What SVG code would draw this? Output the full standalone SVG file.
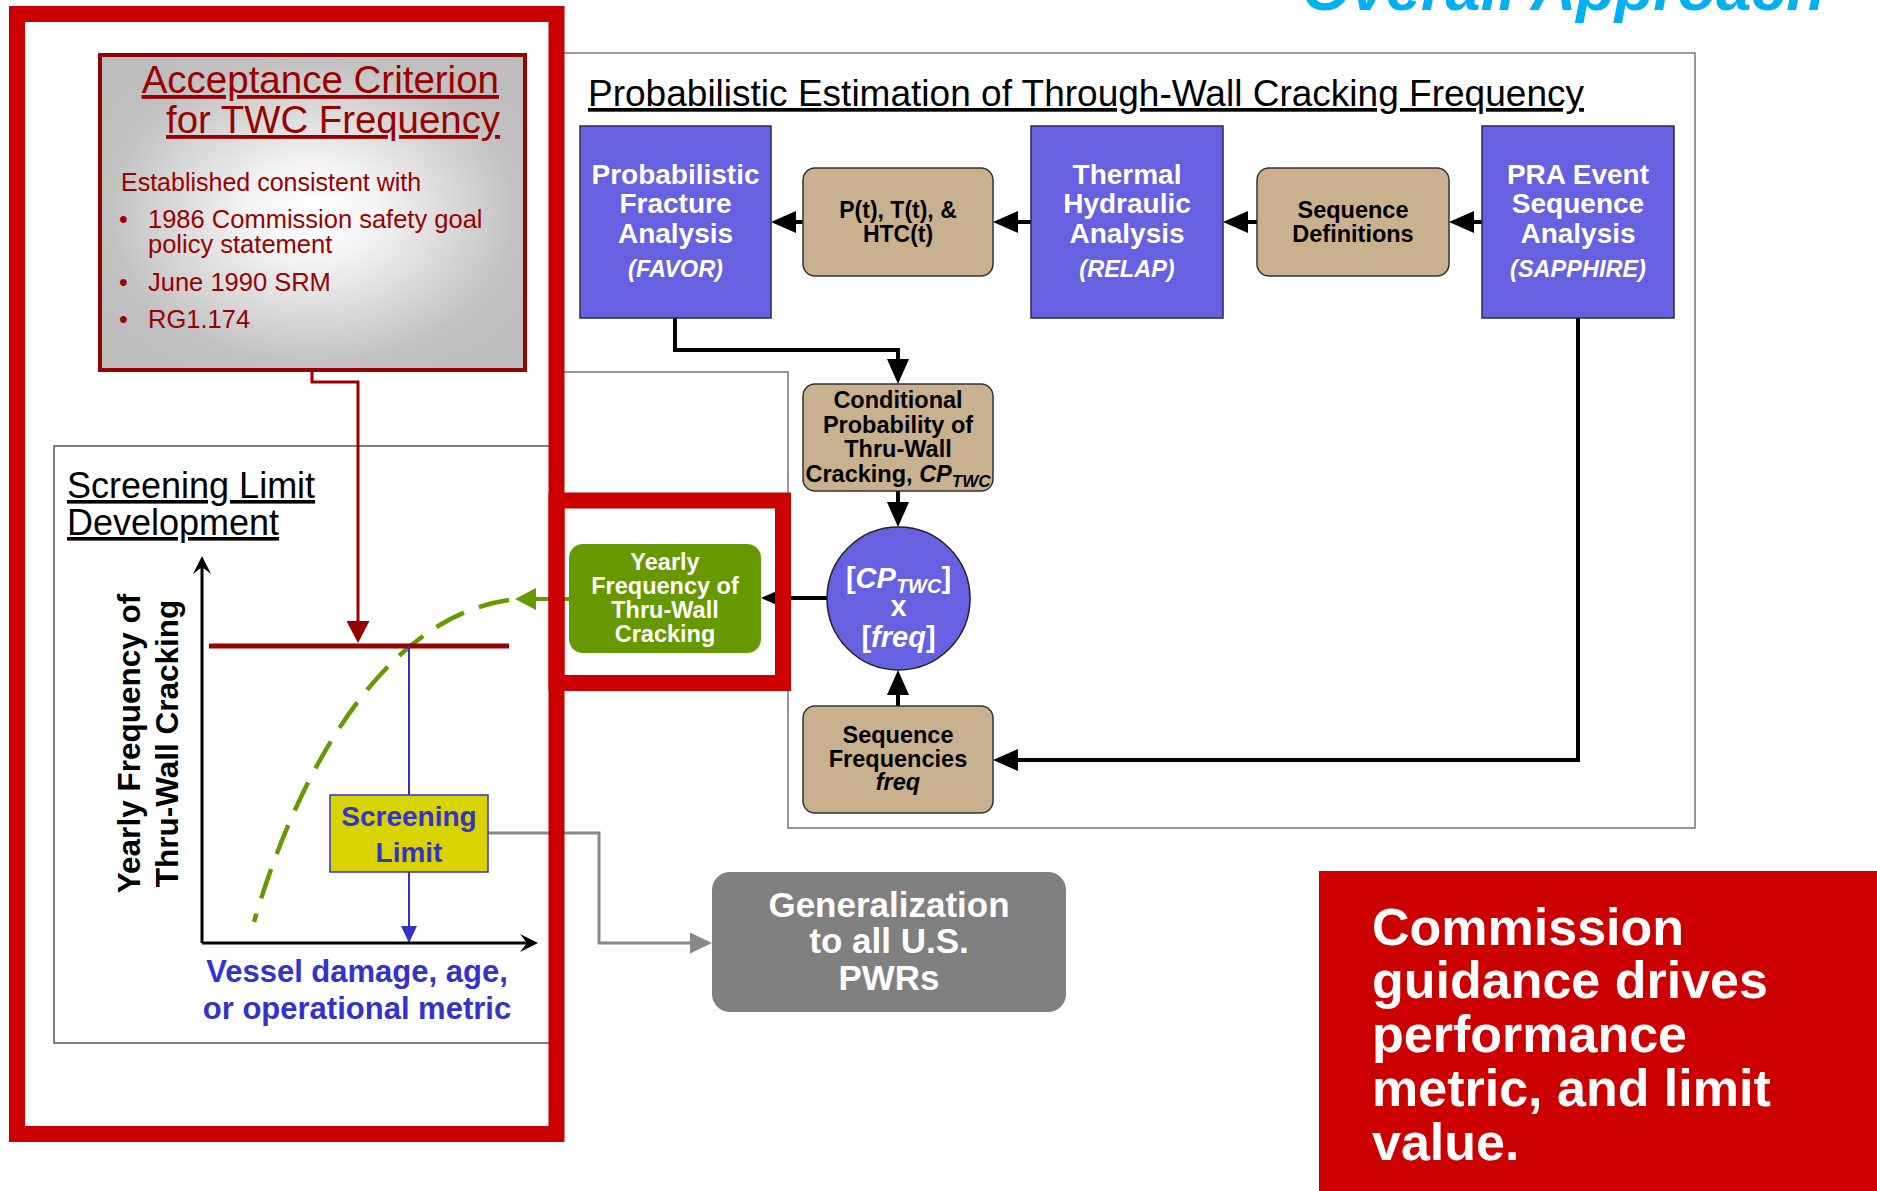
<svg xmlns="http://www.w3.org/2000/svg" width="1877" height="1191" viewBox="0 0 1877 1191">
<defs>
<style>
text{font-family:"Liberation Sans",Arial,Helvetica,sans-serif}
.b{font-weight:bold}
.i{font-style:italic}
.w{fill:#fff}
.dr{fill:#990000}
.bl{fill:#3333CC}
.c{text-anchor:middle}
.u{text-decoration:underline}
.blue{fill:#6661E0;stroke:#2a2a55;stroke-width:1.5}
.tan{fill:#C9B18F;stroke:#333;stroke-width:1.5}
.k{fill:none;stroke:#000;stroke-width:4}
.frame{fill:none;stroke:#CC0000;stroke-width:16}
</style>
<radialGradient id="gAcc" cx="0.5" cy="0.5" r="0.6">
<stop offset="0" stop-color="#FFFFFF"/>
<stop offset="0.25" stop-color="#F4F4F4"/>
<stop offset="0.8" stop-color="#C2C2C2"/>
<stop offset="1" stop-color="#BDBDBD"/>
</radialGradient>
<marker id="ak" markerUnits="userSpaceOnUse" viewBox="0 -11 25 22" markerWidth="25" markerHeight="22" refX="0" refY="0" orient="auto"><path d="M0,-11 L25,0 L0,11 Z" fill="#000"/></marker>
<marker id="ar" markerUnits="userSpaceOnUse" viewBox="0 -11.5 22 23" markerWidth="22" markerHeight="23" refX="0" refY="0" orient="auto"><path d="M0,-11.5 L22,0 L0,11.5 Z" fill="#990000"/></marker>
<marker id="ab" markerUnits="userSpaceOnUse" viewBox="0 -8 17 16" markerWidth="17" markerHeight="16" refX="0" refY="0" orient="auto"><path d="M0,-8 L17,0 L0,8 Z" fill="#3333CC"/></marker>
<marker id="ag" markerUnits="userSpaceOnUse" viewBox="0 -10.5 22 21" markerWidth="22" markerHeight="21" refX="0" refY="0" orient="auto"><path d="M0,-10.5 L22,0 L0,10.5 Z" fill="#888"/></marker>
<marker id="agr" markerUnits="userSpaceOnUse" viewBox="0 -11 21 22" markerWidth="21" markerHeight="22" refX="0" refY="0" orient="auto"><path d="M0,-11 L21,0 L0,11 Z" fill="#669900"/></marker>
<marker id="aax" markerUnits="userSpaceOnUse" viewBox="0 -9 18 18" markerWidth="18" markerHeight="18" refX="7" refY="0" orient="auto"><path d="M0,-9 L18,0 L0,9 L7,0 Z" fill="#000"/></marker>
</defs>
<rect width="1877" height="1191" fill="#fff"/>

<g id="title-overall">
<text x="1302" y="10" class="b i" font-size="63" fill="#00B0F0">Overall Approach</text>
</g>

<g id="containers">
<rect id="screening-dev-box" x="54" y="446" width="502" height="597" fill="#fff" stroke="#555" stroke-width="1.5"/>
<path id="probabilistic-box" d="M556,372 H788 V828 H1695 V53 H556" fill="none" stroke="#777" stroke-width="1.5"/>
<text x="588" y="106" font-size="37" class="u" textLength="996" lengthAdjust="spacingAndGlyphs">Probabilistic Estimation of Through-Wall Cracking Frequency</text>
<text x="67" y="498" font-size="36" class="u">Screening Limit</text>
<text x="67" y="535" font-size="36" class="u">Development</text>
</g>

<g id="connectors">
<path class="k" d="M803,222 H796" marker-end="url(#ak)"/>
<path class="k" d="M1031,222 H1018" marker-end="url(#ak)"/>
<path class="k" d="M1257,222 H1248" marker-end="url(#ak)"/>
<path class="k" d="M1482,222 H1474" marker-end="url(#ak)"/>
<path class="k" d="M675,318 V350 H898 V359" marker-end="url(#ak)"/>
<path class="k" d="M898,491 V502" marker-end="url(#ak)"/>
<path class="k" d="M898,706 V695" marker-end="url(#ak)"/>
<path class="k" d="M1578,318 V760 H1018" marker-end="url(#ak)"/>
<path class="k" d="M827,598 H786" marker-end="url(#ak)"/>
<path d="M312,372 V382 H358 V621" fill="none" stroke="#990000" stroke-width="3" marker-end="url(#ar)"/>
<path d="M409,872 V926" fill="none" stroke="#3333CC" stroke-width="2" marker-end="url(#ab)"/>
<path d="M488,833 H599 V943 H690" fill="none" stroke="#888" stroke-width="3" marker-end="url(#ag)"/>
<path d="M570,599 H536" fill="none" stroke="#669900" stroke-width="4" marker-end="url(#agr)"/>
</g>

<g id="chart">
<path d="M202,943 V567" fill="none" stroke="#000" stroke-width="3" marker-end="url(#aax)"/>
<path d="M202,943 H527" fill="none" stroke="#000" stroke-width="3" marker-end="url(#aax)"/>
<path d="M509,600 C380,618 295,780 254,922" fill="none" stroke="#669900" stroke-width="4.5" stroke-dasharray="31 16"/>
<line x1="209" y1="646" x2="509" y2="646" stroke="#990000" stroke-width="5"/>
<line x1="409" y1="646" x2="409" y2="795" stroke="#3333CC" stroke-width="2"/>
<text class="b c" font-size="31.5" transform="translate(140,743.5) rotate(-90)">Yearly Frequency of</text>
<text class="b c" font-size="31.5" transform="translate(178,743.5) rotate(-90)">Thru-Wall Cracking</text>
<text class="b c bl" font-size="31" x="357" y="982">Vessel damage, age,</text>
<text class="b c bl" font-size="31" x="357" y="1019">or operational metric</text>
</g>

<g id="node-acceptance">
<rect x="100" y="55" width="425" height="315" fill="url(#gAcc)" stroke="#990000" stroke-width="4"/>
<text x="499" y="93" font-size="38.5" class="dr u" text-anchor="end">Acceptance Criterion</text>
<text x="500" y="133" font-size="38.5" class="dr u" text-anchor="end" textLength="334" lengthAdjust="spacingAndGlyphs">for TWC Frequency</text>
<text x="121" y="191" font-size="25" class="dr">Established consistent with</text>
<text x="119" y="228" font-size="25" class="dr">•</text>
<text x="148" y="228" font-size="25.5" class="dr">1986 Commission safety goal</text>
<text x="148" y="253" font-size="25.5" class="dr">policy statement</text>
<text x="119" y="291" font-size="25" class="dr">•</text>
<text x="148" y="291" font-size="25.5" class="dr">June 1990 SRM</text>
<text x="119" y="328" font-size="25" class="dr">•</text>
<text x="148" y="328" font-size="25.5" class="dr">RG1.174</text>
</g>

<g id="node-favor">
<rect class="blue" x="580" y="126" width="191" height="192"/>
<text class="b c w" font-size="28" x="675.5" y="184">Probabilistic</text>
<text class="b c w" font-size="28" x="675.5" y="213">Fracture</text>
<text class="b c w" font-size="28" x="675.5" y="243">Analysis</text>
<text class="b i c w" font-size="23.5" x="675.5" y="277">(FAVOR)</text>
</g>

<g id="node-pt">
<rect class="tan" x="803" y="168" width="190" height="108" rx="12"/>
<text class="b c" font-size="23" x="898" y="218">P(t), T(t), &amp;</text>
<text class="b c" font-size="23" x="898" y="242">HTC(t)</text>
</g>

<g id="node-relap">
<rect class="blue" x="1031" y="126" width="192" height="192"/>
<text class="b c w" font-size="28" x="1127" y="184">Thermal</text>
<text class="b c w" font-size="28" x="1127" y="213">Hydraulic</text>
<text class="b c w" font-size="28" x="1127" y="243">Analysis</text>
<text class="b i c w" font-size="23.5" x="1127" y="277">(RELAP)</text>
</g>

<g id="node-seqdef">
<rect class="tan" x="1257" y="168" width="192" height="108" rx="12"/>
<text class="b c" font-size="23.5" x="1353" y="218">Sequence</text>
<text class="b c" font-size="23.5" x="1353" y="242">Definitions</text>
</g>

<g id="node-sapphire">
<rect class="blue" x="1482" y="126" width="192" height="192"/>
<text class="b c w" font-size="28" x="1578" y="184">PRA Event</text>
<text class="b c w" font-size="28" x="1578" y="213">Sequence</text>
<text class="b c w" font-size="28" x="1578" y="243">Analysis</text>
<text class="b i c w" font-size="23.5" x="1578" y="277">(SAPPHIRE)</text>
</g>

<g id="node-cptwc">
<rect class="tan" x="803" y="384" width="190" height="107" rx="12"/>
<text class="b c" font-size="23.5" x="898" y="408">Conditional</text>
<text class="b c" font-size="23.5" x="898" y="433">Probability of</text>
<text class="b c" font-size="23.5" x="898" y="457">Thru-Wall</text>
<text class="b c" font-size="23.5" x="898" y="482">Cracking, <tspan class="i">CP</tspan><tspan class="i" font-size="17" dy="5">TWC</tspan></text>
</g>

<g id="node-product">
<circle cx="898.5" cy="598.5" r="71.5" fill="#6661E0" stroke="#222" stroke-width="1.5"/>
<text class="b c w" font-size="29" x="898.5" y="588">[<tspan class="i">CP</tspan><tspan class="i" font-size="20" dy="5">TWC</tspan><tspan dy="-5">]</tspan></text>
<text class="b c w" font-size="29" x="898.5" y="616">x</text>
<text class="b c w" font-size="29" x="898.5" y="647">[<tspan class="i">freq</tspan>]</text>
</g>

<g id="node-seqfreq">
<rect class="tan" x="803" y="706" width="190" height="107" rx="12"/>
<text class="b c" font-size="23.5" x="898" y="743">Sequence</text>
<text class="b c" font-size="23.5" x="898" y="767">Frequencies</text>
<text class="b i c" font-size="23.5" x="898" y="790">freq</text>
</g>

<g id="node-yearly">
<rect x="569" y="544" width="192" height="109" rx="14" fill="#669900"/>
<text class="b c w" font-size="23.5" x="665" y="570">Yearly</text>
<text class="b c w" font-size="23.5" x="665" y="594">Frequency of</text>
<text class="b c w" font-size="23.5" x="665" y="618">Thru-Wall</text>
<text class="b c w" font-size="23.5" x="665" y="642">Cracking</text>
</g>

<g id="node-screening-limit">
<rect x="330" y="795" width="158" height="77" fill="#D9D400" stroke="#3333CC" stroke-width="1.5"/>
<text class="b c bl" font-size="28" x="409" y="826">Screening</text>
<text class="b c bl" font-size="28" x="409" y="862">Limit</text>
</g>

<g id="node-generalization">
<rect x="712" y="872" width="354" height="140" rx="18" fill="#808080"/>
<text class="b c w" font-size="35" x="889" y="917">Generalization</text>
<text class="b c w" font-size="35" x="889" y="953">to all U.S.</text>
<text class="b c w" font-size="35" x="889" y="990">PWRs</text>
</g>

<g id="highlight-frames">
<rect class="frame" x="17" y="14" width="539.5" height="1120"/>
<rect class="frame" x="556.5" y="500.5" width="226.5" height="182.5"/>
</g>

<g id="node-commission">
<rect x="1319" y="871" width="558" height="320" fill="#CC0000"/>
<text class="b w" font-size="52" x="1372" y="945">Commission</text>
<text class="b w" font-size="52" x="1372" y="998">guidance drives</text>
<text class="b w" font-size="52" x="1372" y="1052">performance</text>
<text class="b w" font-size="52" x="1372" y="1106">metric, and limit</text>
<text class="b w" font-size="52" x="1372" y="1160">value.</text>
</g>
</svg>
